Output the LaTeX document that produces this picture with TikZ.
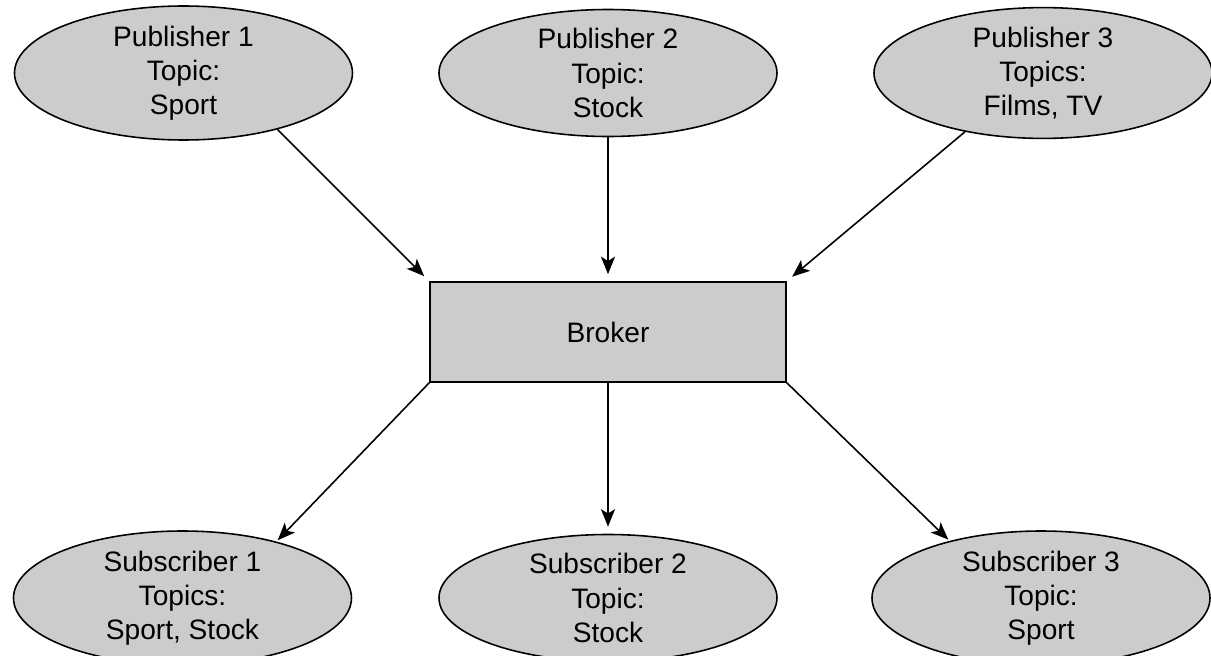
\documentclass[tikz,border=0pt]{standalone}
\usepackage{fontspec}
\setmainfont{Liberation Sans}
\usetikzlibrary{shapes,arrows.meta,positioning}
\tikzset{
party/.style = {draw, fill=black!20, ellipse, align = center, inner sep=0pt, minimum width=6.76cm, minimum height=2.54cm, line width=0.9pt, font=\fontsize{16}{19.5}\selectfont},
hub/.style = {draw, fill=black!20, rectangle, align = center, minimum width=7.12cm, minimum height=2cm, line width=0.9pt, font=\fontsize{16}{19.5}\selectfont},
link/.style = {->, line width=0.9pt}
}

\begin{document}
\begin{tikzpicture}[auto, node distance=2cm, >={Stealth[length=10pt,width=8pt,inset=2.5pt]}]
    \useasboundingbox (-12.16,6.64) rectangle (12.06,-6.46);

    \node[hub] (broker) {Broker};

    \node[party, above of = broker, node distance=5.18cm] (pub2) {Publisher 2\\Topic:\\Stock};
    \node[party, left of = pub2, node distance=8.49cm] (pub1) {Publisher 1\\Topic:\\Sport};
    \node[party, right of = pub2, node distance=8.7cm] (pub3) {Publisher 3\\Topics:\\Films, TV};

    \node[party, below of = broker, node distance=5.32cm] (sub2) {Subscriber 2\\Topic:\\Stock};
    \node[party, left of = sub2, node distance=8.51cm] (sub1) {Subscriber 1\\Topics:\\Sport, Stock};
    \node[party, right of = sub2, node distance=8.66cm] (sub3) {Subscriber 3\\Topic:\\Sport};

    % publishers push to the broker
    \draw[link, shorten >=4pt] (pub1.-31) -- (broker.north west);
    \draw[link, shorten >=4pt] (pub2) -- (broker);
    \draw[link, shorten >=4pt] (pub3.-143) -- (broker.north east);

    % broker forwards to the subscribers
    \draw[link, shorten >=1pt] (broker.south west) -- (sub1.31);
    \draw[link, shorten >=4pt] (broker) -- (sub2);
    \draw[link, shorten >=1pt] (broker.south east) -- (sub3.148);
    \end{tikzpicture}
\end{document}
